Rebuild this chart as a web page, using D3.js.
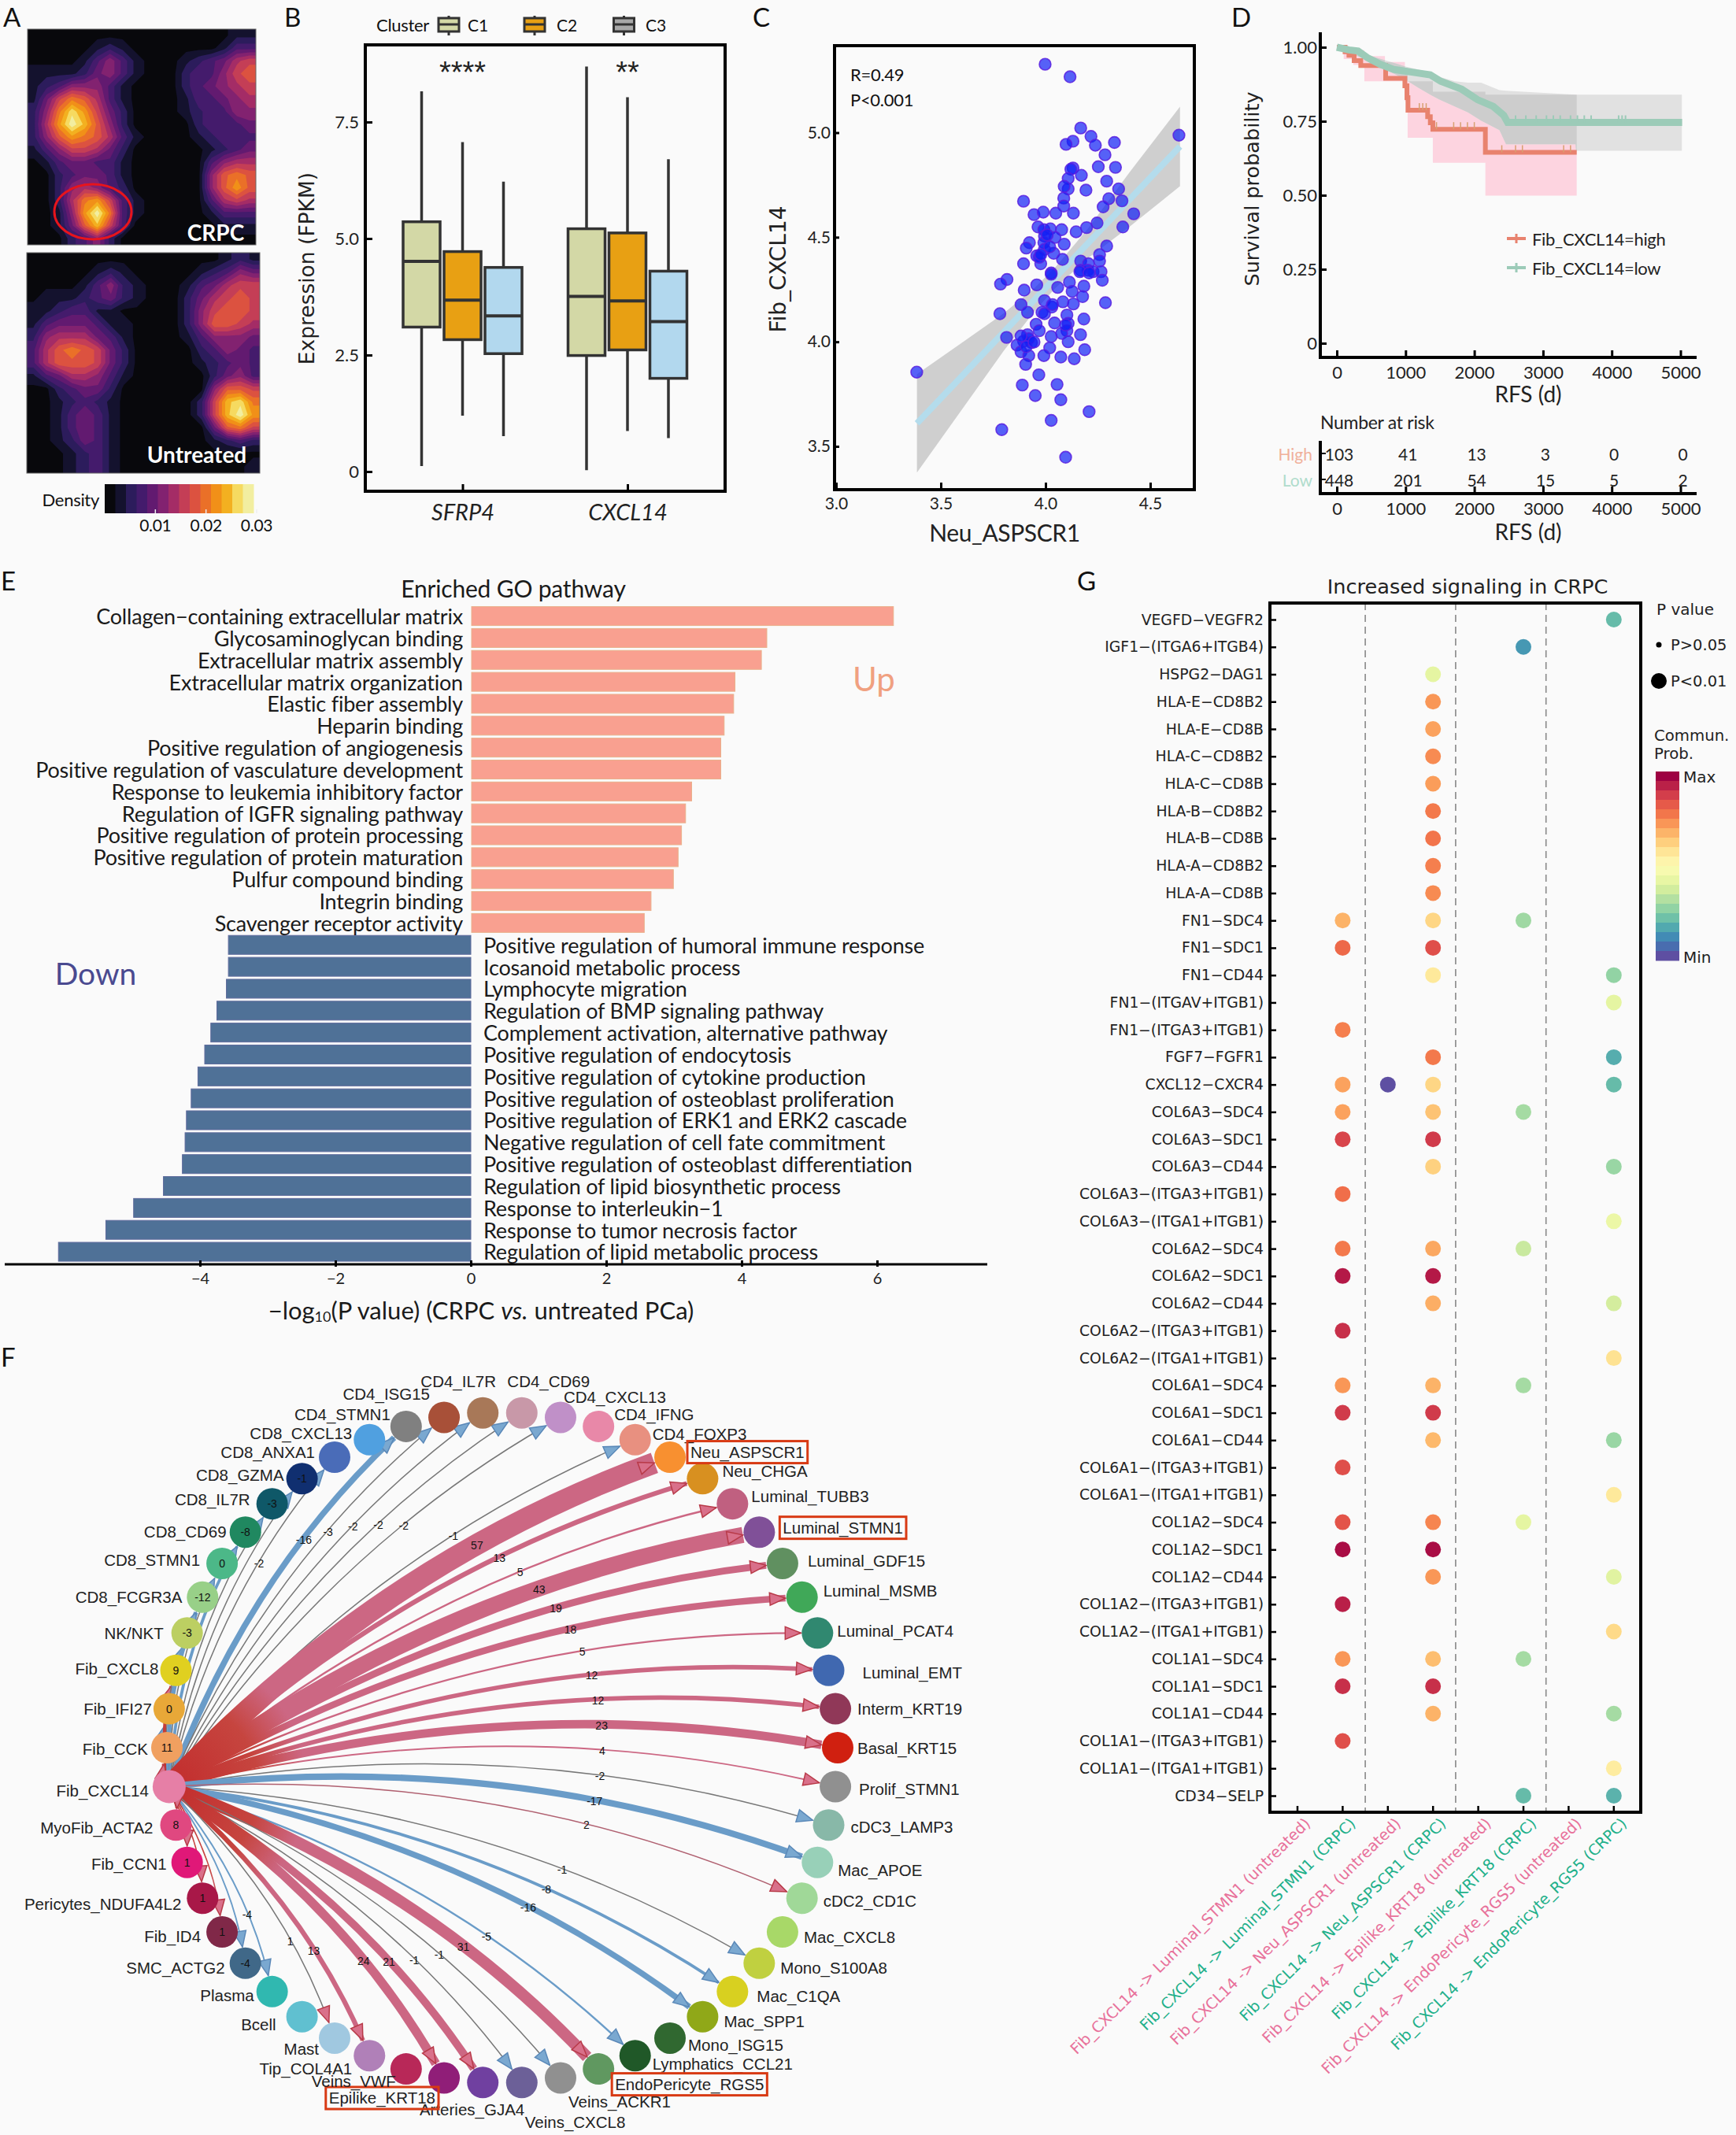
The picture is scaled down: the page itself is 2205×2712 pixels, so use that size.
<!DOCTYPE html>
<html><head><meta charset="utf-8">
<script src="https://d3js.org/d3.v7.min.js"></script>
<style>html,body{margin:0;padding:0;background:#fafafa}svg{display:block}</style>
</head><body><div id="c"></div>
<script>
// ---------- Panel A data (hand-read density levels, hex digit per cell) ----------
const densityColors=["#08080c","#14122e","#2c1c5c","#441b6c","#621a70","#822270","#a42c66","#c43e56","#dc5240","#ea7028","#f19018","#f3b020","#f6da60","#f2eea0"];
const densityTicks=[0.01,0.02,0.03];
const crpcGrid=["000000000000000011","000001210000000133","000013531000123467","111124531000233578","123555310000234567","147986310000133456","259ca7420000123355","26adb8520000023334","258a98631000012333","135776420000001234","013443310000003566","002344310000005898","0025653200000058a8","00269a731000003676","0015ad931000001333","00148b730000000111","000235200000000000"];
const untreatedGrid=["000000000000000121","000001210000012354","000013521000134677","011123421000246787","112331100000257887","134443110000258876","256664310000135554","368987420000023543","368887420000012343","134665310000002453","002344200000005887","001232100000027bc9","001343100000027bda","001343100000004897","001243100000001232","000123100000000000","000123100000000001"];
// ---------- Panel B data ----------
const boxGenes=["SFRP4","CXCL14"];
const boxClusters=["C1","C2","C3"];
const boxColors=["#d3d8a6","#e8a013","#b2d8ee"];
const boxMin=[[0.12,1.2,0.76],[0.03,0.87,0.72]];
const boxQ1=[[3.10,2.83,2.53],[2.49,2.61,2.0]];
const boxMed=[[4.51,3.68,3.34],[3.76,3.66,3.22]];
const boxQ3=[[5.36,4.72,4.38],[5.21,5.12,4.30]];
const boxMax=[[8.16,7.07,6.22],[8.69,8.03,6.70]];
const boxStars=["****","**"];
// ---------- Panel C data ----------
const scatterX=[3.998,4.117,4.168,4.217,4.131,4.098,4.238,4.329,4.284,4.252,4.334,4.131,4.121,4.171,4.108,4.292,4.349,4.193,4.108,4.089,3.895,4.087,4.302,4.365,4.087,4.275,3.945,3.989,4.049,4.133,4.421,3.964,4.246,4.196,4.077,3.992,4.023,4.146,4.369,3.995,4.045,3.923,3.992,3.908,4.089,4.292,3.995,4.039,3.958,4.081,4.258,4.258,3.895,3.977,4.027,4.168,4.205,4.168,4.202,4.227,4.265,4.637,3.970,4.008,4.020,3.977,3.816,3.785,3.958,3.898,4.027,4.114,4.058,4.127,4.183,4.271,4.164,4.208,4.177,4.286,3.883,3.995,4.083,4.133,4.030,3.782,3.983,4.102,3.914,4.183,4.043,3.955,4.108,3.970,4.102,3.914,4.167,4.027,4.077,3.814,4.108,3.933,3.895,3.864,4.020,3.883,4.187,3.920,3.992,4.073,4.137,3.905,3.968,3.889,4.055,3.951,4.073,4.208,4.027,3.791,4.096,3.385,3.920,3.908,3.945,3.883,4.033,3.995,4.096];
const scatterY=[5.327,5.267,5.022,4.982,4.959,4.944,4.940,4.953,4.894,4.837,4.834,4.831,4.825,4.796,4.781,4.768,4.731,4.725,4.731,4.743,4.672,4.687,4.684,4.674,4.649,4.645,4.608,4.620,4.615,4.615,4.612,4.549,4.568,4.546,4.536,4.536,4.540,4.526,4.549,4.505,4.499,4.474,4.474,4.448,4.467,4.458,4.442,4.423,4.411,4.394,4.417,4.386,4.373,4.373,4.329,4.386,4.373,4.342,4.342,4.335,4.335,4.988,4.404,4.511,4.454,4.417,4.298,4.276,4.272,4.247,4.323,4.285,4.260,4.241,4.266,4.294,4.335,4.329,4.216,4.187,4.178,4.197,4.191,4.181,4.166,4.134,4.141,4.128,4.141,4.109,4.090,4.084,4.088,4.053,4.053,4.034,4.034,4.025,4.040,4.021,4.000,3.996,4.003,3.984,3.971,3.952,3.962,3.934,3.934,3.927,3.919,3.892,3.842,3.793,3.796,3.743,3.723,3.666,3.624,3.580,3.448,3.855,4.015,3.977,3.999,4.028,4.178,4.134,4.080];
const fitX=[3.386,3.6,3.8,3.95,4.05,4.2,4.4,4.642];
const fitY=[3.61,3.835,4.046,4.204,4.310,4.468,4.679,4.934];
const fitHalf=[0.235,0.16,0.09,0.055,0.05,0.07,0.13,0.19];
// ---------- Panel D data ----------
const highT=[0,120,176,252,348,710,990,1020,1035,1321,1360,1397,2161,3490];
const highS=[1,.985,.973,.955,.938,.895,.87,.83,.787,.765,.745,.723,.645,.645];
const highCIT=[0,100,240,400,700,990,1030,1397,2161,3490];
const highCIU=[1,1,.99,.97,.95,.93,.885,.85,.84,.84];
const highCIL=[1,.96,.94,.885,.885,.818,.694,.61,.499,.499];
const lowT=[0,175,309,443,634,825,1092,1359,1512,1817,2046,2275,2428,2485,5024];
const lowS=[1,.991,.987,.965,.942,.925,.916,.907,.885,.858,.823,.80,.77,.746,.746];
const lowCIT=[0,500,1000,1182,1359,1488,1717,1908,2099,2366,2462,3473,3480,5020];
const lowCIU=[1,.97,.935,.925,.915,.90,.885,.88,.88,.855,.853,.84,.84,.84];
const lowCIL=[1,.95,.89,.864,.84,.824,.80,.78,.752,.72,.672,.672,.65,.65];
const lowCensor=[2600,2750,2900,3050,3150,3250,3400,3500,3600,3700,4100,4150,4200];
const highCensor=[1200,1250,1300,1450,1700,1800,1900,2000,2400,2600,2700,3300,3400];
const riskTimes=[0,1000,2000,3000,4000,5000];
const riskHigh=[103,41,13,3,0,0];
const riskLow=[448,201,54,15,5,2];
const survTicks=[0,.25,.5,.75,1];
// ---------- Panel E data ----------
const upTerms=["Collagen−containing extracellular matrix","Glycosaminoglycan binding","Extracellular matrix assembly","Extracellular matrix organization","Elastic fiber assembly","Heparin binding","Positive regulation of angiogenesis","Positive regulation of vasculature development","Response to leukemia inhibitory factor","Regulation of IGFR signaling pathway","Positive regulation of protein processing","Positive regulation of protein maturation","Pulfur compound binding","Integrin binding","Scavenger receptor activity"];
const upValues=[6.23,4.36,4.28,3.89,3.87,3.73,3.68,3.68,3.25,3.16,3.10,3.05,2.98,2.65,2.55];
const downTerms=["Positive regulation of humoral immune response","Icosanoid metabolic process","Lymphocyte migration","Regulation of BMP signaling pathway","Complement activation, alternative pathway","Positive regulation of endocytosis","Positive regulation of cytokine production","Positive regulation of osteoblast proliferation","Positive regulation of ERK1 and ERK2 cascade","Negative regulation of cell fate commitment","Positive regulation of osteoblast differentiation","Regulation of lipid biosynthetic process","Response to interleukin−1","Response to tumor necrosis factor","Regulation of lipid metabolic process"];
const downValues=[-3.58,-3.58,-3.61,-3.75,-3.84,-3.93,-4.03,-4.13,-4.20,-4.22,-4.26,-4.54,-4.98,-5.39,-6.09];
// ---------- Panel F data ----------
const cellNames=["Fib_CXCL14","Fib_CCK","Fib_IFI27","Fib_CXCL8","NK/NKT","CD8_FCGR3A","CD8_STMN1","CD8_CD69","CD8_IL7R","CD8_GZMA","CD8_ANXA1","CD8_CXCL13","CD4_STMN1","CD4_ISG15","CD4_IL7R","CD4_CD69","CD4_CXCL13","CD4_IFNG","CD4_FOXP3","Neu_ASPSCR1","Neu_CHGA","Luminal_TUBB3","Luminal_STMN1","Luminal_GDF15","Luminal_MSMB","Luminal_PCAT4","Luminal_EMT","Interm_KRT19","Basal_KRT15","Prolif_STMN1","cDC3_LAMP3","Mac_APOE","cDC2_CD1C","Mac_CXCL8","Mono_S100A8","Mac_C1QA","Mac_SPP1","Mono_ISG15","Lymphatics_CCL21","EndoPericyte_RGS5","Veins_ACKR1","Veins_CXCL8","Arteries_GJA4","Epilike_KRT18","Veins_VWF","Tip_COL4A1","Mast","Bcell","Plasma","SMC_ACTG2","Fib_ID4","Pericytes_NDUFA4L2","Fib_CCN1","MyoFib_ACTA2"];
const cellColors=["#e67fa6","#f0a060","#e8a838","#e0d020","#bccf62","#98d088","#4cb888","#208860","#0f5868","#102f70","#4a6cb8","#50a0e0","#808080","#a85038","#a87858","#c898a8","#c090c8","#e888a8","#e89080","#f89030","#d89020","#c06080","#805098","#609060","#40a858","#308870","#4068b0","#903858","#d02010","#909090","#88b8a8","#98d0b8","#a0d898","#a8d868","#c0d040","#d8d020","#90a818","#306830","#205828","#609860","#909090","#6c6098","#7040a0","#901e78","#b82858","#b080b8","#a0c8e0","#60c0d0","#30b8b0","#406888","#802848","#a81848","#e01878","#e04880"];
const edgeTargets=["Fib_CCK","Fib_IFI27","Fib_CXCL8","NK/NKT","CD8_FCGR3A","CD8_STMN1","CD8_CD69","CD8_IL7R","CD8_GZMA","CD8_ANXA1","CD4_STMN1","CD4_ISG15","CD4_IL7R","CD4_CD69","CD4_CXCL13","CD4_FOXP3","Neu_ASPSCR1","Neu_CHGA","Luminal_TUBB3","Luminal_STMN1","Luminal_GDF15","Luminal_MSMB","Luminal_PCAT4","Luminal_EMT","Interm_KRT19","Basal_KRT15","Prolif_STMN1","cDC3_LAMP3","Mac_APOE","cDC2_CD1C","Mono_S100A8","Mac_C1QA","Mac_SPP1","Lymphatics_CCL21","EndoPericyte_RGS5","Veins_ACKR1","Veins_CXCL8","Arteries_GJA4","Epilike_KRT18","Tip_COL4A1","Mast","Plasma","SMC_ACTG2","Fib_ID4","Pericytes_NDUFA4L2","Fib_CCN1","MyoFib_ACTA2"];
const edgeValues=[11,0,9,-3,-12,0,-8,-3,-1,-2,-16,-3,-2,-2,-2,-1,57,13,5,43,19,18,5,12,12,23,4,-2,-17,2,-1,-8,-16,-5,31,-1,-1,21,24,13,1,-4,-4,1,1,1,8];
const labelOnNode=["Fib_CCK","Fib_IFI27","Fib_CXCL8","NK/NKT","CD8_FCGR3A","CD8_STMN1","CD8_CD69","CD8_IL7R","CD8_GZMA","SMC_ACTG2","Fib_ID4","Pericytes_NDUFA4L2","Fib_CCN1","MyoFib_ACTA2"];
const boxedCells=["Neu_ASPSCR1","Luminal_STMN1","EndoPericyte_RGS5","Epilike_KRT18"];
// ---------- Panel G data ----------
const lrPairs=["VEGFD−VEGFR2","IGF1−(ITGA6+ITGB4)","HSPG2−DAG1","HLA-E−CD8B2","HLA-E−CD8B","HLA-C−CD8B2","HLA-C−CD8B","HLA-B−CD8B2","HLA-B−CD8B","HLA-A−CD8B2","HLA-A−CD8B","FN1−SDC4","FN1−SDC1","FN1−CD44","FN1−(ITGAV+ITGB1)","FN1−(ITGA3+ITGB1)","FGF7−FGFR1","CXCL12−CXCR4","COL6A3−SDC4","COL6A3−SDC1","COL6A3−CD44","COL6A3−(ITGA3+ITGB1)","COL6A3−(ITGA1+ITGB1)","COL6A2−SDC4","COL6A2−SDC1","COL6A2−CD44","COL6A2−(ITGA3+ITGB1)","COL6A2−(ITGA1+ITGB1)","COL6A1−SDC4","COL6A1−SDC1","COL6A1−CD44","COL6A1−(ITGA3+ITGB1)","COL6A1−(ITGA1+ITGB1)","COL1A2−SDC4","COL1A2−SDC1","COL1A2−CD44","COL1A2−(ITGA3+ITGB1)","COL1A2−(ITGA1+ITGB1)","COL1A1−SDC4","COL1A1−SDC1","COL1A1−CD44","COL1A1−(ITGA3+ITGB1)","COL1A1−(ITGA1+ITGB1)","CD34−SELP"];
const lrColumns=["Fib_CXCL14 -> Luminal_STMN1 (untreated)","Fib_CXCL14 -> Luminal_STMN1 (CRPC)","Fib_CXCL14 -> Neu_ASPSCR1 (untreated)","Fib_CXCL14 -> Neu_ASPSCR1 (CRPC)","Fib_CXCL14 -> Epilike_KRT18 (untreated)","Fib_CXCL14 -> Epilike_KRT18 (CRPC)","Fib_CXCL14 -> EndoPericyte_RGS5 (untreated)","Fib_CXCL14 -> EndoPericyte_RGS5 (CRPC)"];
// one list of [column index, relative communication probability] per ligand-receptor row
const lrProb=[[[7,.2]],[[5,.13]],[[3,.42]],[[3,.75]],[[3,.73]],[[3,.77]],[[3,.74]],[[3,.8]],[[3,.81]],[[3,.79]],[[3,.77]],[[1,.7],[3,.63],[5,.29]],[[1,.83],[3,.88]],[[3,.58],[7,.27]],[[7,.42]],[[1,.79]],[[3,.8],[7,.17]],[[1,.73],[2,0],[3,.63],[7,.2]],[[1,.73],[3,.67],[5,.3]],[[1,.9],[3,.92]],[[3,.64],[7,.28]],[[1,.82]],[[7,.44]],[[1,.8],[3,.72],[5,.36]],[[1,.98],[3,.98]],[[3,.71],[7,.38]],[[1,.94]],[[7,.6]],[[1,.75],[3,.7],[5,.3]],[[1,.92],[3,.92]],[[3,.69],[7,.28]],[[1,.88]],[[7,.58]],[[1,.87],[3,.78],[5,.42]],[[1,1],[3,1]],[[3,.75],[7,.41]],[[1,.97]],[[7,.62]],[[1,.75],[3,.68],[5,.3]],[[1,.94],[3,.94]],[[3,.7],[7,.3]],[[1,.88]],[[7,.57]],[[5,.2],[7,.18]]];

// ---------- layout constants ----------
const NARROW="Lato, 'Open Sans', sans-serif", SANS="'DejaVu Sans', sans-serif", ARIAL="'Liberation Sans', Arial, sans-serif";
const BG="#fafafa";
const svg=d3.select("#c").append("svg").attr("width",2205).attr("height",2712);
svg.append("rect").attr("width",2205).attr("height",2712).attr("fill",BG);
const defs=svg.append("defs");
function txt(g,x,y,s,o={}){
  const t=g.append("text").attr("x",x).attr("y",y).text(s)
   .attr("font-family",o.f||NARROW).attr("font-size",o.s||22).attr("fill",o.c||"#111")
   .attr("text-anchor",o.a||"start").attr("dominant-baseline","central");
  if(o.w)t.attr("font-weight",o.w); if(o.i)t.attr("font-style","italic");
  if(o.ls)t.attr("letter-spacing",o.ls);
  if(o.r!=null)t.attr("transform",`rotate(${o.r} ${x} ${y})`);
  return t;
}
function styleAxis(g,o={}){
  g.select(".domain").remove();
  g.selectAll("line").attr("stroke","#000").attr("stroke-width",o.tw||3);
  g.selectAll("text").attr("font-family",o.f||NARROW).attr("font-size",o.s||22).attr("fill","#222");
}
[["A",4,21],["B",361,21],["C",956,21],["D",1564,21],["E",1,737],["F",1,1723],["G",1368,737]].forEach(d=>txt(svg,d[1],d[2],d[0],{s:33}));

// ---------- Panel A ----------
(function(){
  const lift=.3;
  function heat(grid,box,id,label,lx,ly){
    const n=grid[0].length,m=grid.length;
    // pad by repeating the edge so that contours run to the panel border
    const vals=[];
    for(let j=-1;j<=m;j++)for(let i=-1;i<=n;i++){
      const r=grid[Math.max(0,Math.min(m-1,j))];
      vals.push(parseInt(r[Math.max(0,Math.min(n-1,i))],16));
    }
    const cs=d3.contours().size([n+2,m+2]).thresholds(d3.range(lift,13,1))(vals);
    const sx=d3.scaleLinear().domain([1,n+1]).range([box[0],box[1]]);
    const sy=d3.scaleLinear().domain([1,m+1]).range([box[2],box[3]]);
    const path=d3.geoPath(d3.geoTransform({point(x,y){this.stream.point(sx(x),sy(y));}}));
    defs.append("clipPath").attr("id",id).append("rect").attr("x",box[0]).attr("y",box[2]).attr("width",box[1]-box[0]).attr("height",box[3]-box[2]);
    const g=svg.append("g").attr("clip-path",`url(#${id})`);
    g.append("rect").attr("x",box[0]).attr("y",box[2]).attr("width",box[1]-box[0]).attr("height",box[3]-box[2]).attr("fill",densityColors[0]);
    g.selectAll("path").data(cs).join("path").attr("d",path).attr("fill",d=>densityColors[Math.round(d.value-lift)+1]);
    svg.append("rect").attr("x",box[0]).attr("y",box[2]).attr("width",box[1]-box[0]).attr("height",box[3]-box[2]).attr("fill","none").attr("stroke","#666").attr("stroke-width",1);
    txt(svg,lx,ly,label,{s:28,c:"#fff",w:700,a:"middle"});
  }
  heat(crpcGrid,[35,325,37,311],"cA1","CRPC",274,295);
  heat(untreatedGrid,[34,330,321,601],"cA2","Untreated",250,577);
  svg.append("ellipse").attr("cx",118).attr("cy",269).attr("rx",49).attr("ry",35).attr("fill","none").attr("stroke","#e8141c").attr("stroke-width",3);
  const x=d3.scaleLinear().domain([0,0.03]).range([133,326]);
  const w=(322-133)/densityColors.length;
  svg.selectAll("rect.cb").data(densityColors).join("rect").attr("class","cb")
    .attr("x",(d,i)=>133+i*w).attr("y",615).attr("width",w+.5).attr("height",37).attr("fill",d=>d);
  densityTicks.forEach(t=>{
    txt(svg,x(t),666,t.toFixed(2),{s:21,a:"middle",ls:"-.3px"});
    svg.append("line").attr("x1",x(t)).attr("x2",x(t)).attr("y1",647).attr("y2",652).attr("stroke","#eee").attr("stroke-width",1.5);
  });
  txt(svg,126,634,"Density",{s:22,a:"end",ls:"-.3px"});
})();

// ---------- Panel B ----------
(function(){
  const fr={l:464,r:921,t:57,b:624};
  const x0=d3.scaleBand().domain(boxGenes).range([483,902]);
  const x1=d3.scalePoint().domain(boxClusters).range([52.5,156.5]);
  const y=d3.scaleLinear().domain([0,7.5]).range([599,155]);
  const g=svg.append("g");
  boxGenes.forEach((gene,gi)=>{
    boxClusters.forEach((c,ci)=>{
      const cx=x0(gene)+x1(c),W=47;
      g.append("line").attr("x1",cx).attr("x2",cx).attr("y1",y(boxMin[gi][ci])).attr("y2",y(boxMax[gi][ci])).attr("stroke","#333").attr("stroke-width",3.5);
      g.append("rect").attr("x",cx-W/2).attr("width",W).attr("y",y(boxQ3[gi][ci])).attr("height",y(boxQ1[gi][ci])-y(boxQ3[gi][ci])).attr("fill",boxColors[ci]).attr("stroke","#333").attr("stroke-width",3.5);
      g.append("line").attr("x1",cx-W/2).attr("x2",cx+W/2).attr("y1",y(boxMed[gi][ci])).attr("y2",y(boxMed[gi][ci])).attr("stroke","#333").attr("stroke-width",4);
    });
    txt(svg,x0(gene)+x1.range()[0]+52,92,boxStars[gi],{s:38,a:"middle",f:ARIAL,c:"#222"});
  });
  svg.append("rect").attr("x",fr.l).attr("y",fr.t).attr("width",fr.r-fr.l).attr("height",fr.b-fr.t).attr("fill","none").attr("stroke","#000").attr("stroke-width",4);
  const ay=svg.append("g").attr("transform",`translate(${fr.l},0)`).call(d3.axisLeft(y).tickValues([0,2.5,5,7.5]).tickFormat(d=>d==0?"0":d.toFixed(1)).tickSize(-9).tickPadding(8));
  styleAxis(ay,{s:22});
  const ax=svg.append("g").attr("transform",`translate(0,${fr.b})`).call(d3.axisBottom(d3.scalePoint().domain(boxGenes).range([x0(boxGenes[0])+104.5,x0(boxGenes[1])+104.5])).tickSize(-9).tickPadding(0));
  styleAxis(ax,{s:29});
  ax.selectAll("text").attr("font-style","italic").attr("dy",0).attr("y",25).attr("dominant-baseline","central");
  txt(svg,389,341,"Expression (FPKM)",{f:SANS,s:26.5,a:"middle",r:-90,c:"#222"});
  txt(svg,478,31,"Cluster",{s:22,a:"start",ls:"-.3px"});
  [[570,607],[679,720],[792.5,833]].forEach((p,i)=>{
    svg.append("line").attr("x1",p[0]).attr("x2",p[0]).attr("y1",20).attr("y2",45).attr("stroke","#333").attr("stroke-width",3);
    svg.append("rect").attr("x",p[0]-13).attr("y",23).attr("width",26).attr("height",17).attr("fill",["#d3d8a6","#e8a013","#a8a8a8"][i]).attr("stroke","#333").attr("stroke-width",3);
    svg.append("line").attr("x1",p[0]-13).attr("x2",p[0]+13).attr("y1",31).attr("y2",31).attr("stroke","#333").attr("stroke-width",3);
    txt(svg,p[1],31,boxClusters[i],{s:21,a:"middle"});
  });
})();

// ---------- Panel C ----------
(function(){
  const fr={l:1060,r:1517,t:58,b:622};
  const x=d3.scaleLinear().domain([3,4.5]).range([1062,1461]);
  const y=d3.scaleLinear().domain([3.5,5]).range([567,168.5]);
  const idx=d3.range(fitX.length);
  svg.append("path").attr("d",d3.area().x(i=>x(fitX[i])).y0(i=>y(fitY[i]-fitHalf[i])).y1(i=>y(fitY[i]+fitHalf[i]))(idx)).attr("fill","#cfcfcf");
  svg.append("path").attr("d",d3.line().x(i=>x(fitX[i])).y(i=>y(fitY[i]))(idx)).attr("fill","none").attr("stroke","#b4dcec").attr("stroke-width",8);
  svg.append("g").selectAll("circle").data(scatterX).join("circle").attr("cx",d=>x(d)).attr("cy",(d,i)=>y(scatterY[i])).attr("r",7.4)
    .attr("fill","#1020f5").attr("fill-opacity",.7).attr("stroke","#5a20e0").attr("stroke-width",1.6).attr("stroke-opacity",.85);
  svg.append("rect").attr("x",fr.l).attr("y",fr.t).attr("width",fr.r-fr.l).attr("height",fr.b-fr.t).attr("fill","none").attr("stroke","#000").attr("stroke-width",4);
  styleAxis(svg.append("g").attr("transform",`translate(${fr.l},0)`).call(d3.axisLeft(y).tickValues([3.5,4,4.5,5]).tickFormat(d3.format(".1f")).tickSize(-6).tickPadding(5)),{s:21});
  const ax=svg.append("g").attr("transform",`translate(0,${fr.b})`).call(d3.axisBottom(x).tickValues([3,3.5,4,4.5]).tickFormat(d3.format(".1f")).tickSize(-9).tickPadding(0));
  styleAxis(ax,{s:21}); ax.selectAll("text").attr("dy",0).attr("y",16).attr("dominant-baseline","central");
  txt(svg,1080,94,"R=0.49",{s:22,ls:"-.3px"});
  txt(svg,1080,126,"P<0.001",{s:22,ls:"-.3px"});
  txt(svg,1276,676,"Neu_ASPSCR1",{s:30,a:"middle",c:"#222",ls:"-.4px"});
  txt(svg,988,342,"Fib_CXCL14",{f:SANS,s:28,a:"middle",r:-90,c:"#222"});
})();

// ---------- Panel D ----------
(function(){
  const x=d3.scaleLinear().domain([0,5000]).range([1698,2134.5]);
  const y=d3.scaleLinear().domain([0,1]).range([436,60]);
  const hi=d3.range(highCIT.length), lo=d3.range(lowCIT.length);
  const hiArea=d3.area().curve(d3.curveStepAfter).x(i=>x(highCIT[i])).y0(i=>y(highCIL[i])).y1(i=>y(highCIU[i]))(hi);
  const loArea=d3.area().curve(d3.curveLinear).x(i=>x(lowCIT[i])).y0(i=>y(lowCIL[i])).y1(i=>y(lowCIU[i]))(lo);
  svg.append("path").attr("d",hiArea).attr("fill","#fdd4e0");
  svg.append("path").attr("d",loArea).attr("fill","#e1e1e1");
  defs.append("clipPath").attr("id","cDlow").append("path").attr("d",loArea);
  svg.append("path").attr("d",hiArea).attr("fill","#cdcdcd").attr("clip-path","url(#cDlow)");
  const lineHi=d3.line().curve(d3.curveStepAfter).x(i=>x(highT[i])).y(i=>y(highS[i]));
  const lineLo=d3.line().curve(d3.curveLinear).x(i=>x(lowT[i])).y(i=>y(lowS[i]));
  svg.append("path").attr("d",lineHi(d3.range(highT.length))).attr("fill","none").attr("stroke","#e8826e").attr("stroke-width",6);
  const hv=t=>highS[d3.bisectRight(highT,t)-1];
  svg.append("g").selectAll("line").data(highCensor).join("line").attr("x1",d=>x(d)).attr("x2",d=>x(d)).attr("y1",d=>y(hv(d))-9).attr("y2",d=>y(hv(d))).attr("stroke","#d8a070").attr("stroke-width",1.5);
  svg.append("path").attr("d",lineLo(d3.range(lowT.length))).attr("fill","none").attr("stroke","#9ccbb8").attr("stroke-width",9);
  svg.append("g").selectAll("line").data(lowCensor).join("line").attr("x1",d=>x(d)).attr("x2",d=>x(d)).attr("y1",y(.746)-9).attr("y2",y(.746)).attr("stroke","#9ccbb8").attr("stroke-width",2);
  const axisLine=(x1,x2,y1,y2)=>svg.append("line").attr("x1",x1).attr("x2",x2).attr("y1",y1).attr("y2",y2).attr("stroke","#000").attr("stroke-width",4);
  axisLine(1677,1677,41,455); axisLine(1675,2155,454,454);
  styleAxis(svg.append("g").attr("transform","translate(1677,0)").call(d3.axisLeft(y).tickValues(survTicks).tickFormat(d=>d==0?"0":d.toFixed(2)).tickSize(-8).tickPadding(4)),{s:22});
  const ax=svg.append("g").attr("transform","translate(0,454)").call(d3.axisBottom(x).tickValues(riskTimes).tickFormat(d3.format("d")).tickSize(-9).tickPadding(0));
  styleAxis(ax,{s:22}); ax.selectAll("text").attr("dy",0).attr("y",18).attr("dominant-baseline","central");
  txt(svg,1941,500,"RFS (d)",{s:28,a:"middle",c:"#222"});
  txt(svg,1590,240,"Survival probability",{f:SANS,s:25.5,a:"middle",r:-90,c:"#222"});
  [["Fib_CXCL14=high","#e8826e",303],["Fib_CXCL14=low","#9ccbb8",340]].forEach(d=>{
    svg.append("line").attr("x1",1914).attr("x2",1938).attr("y1",d[2]).attr("y2",d[2]).attr("stroke",d[1]).attr("stroke-width",4);
    svg.append("line").attr("x1",1926).attr("x2",1926).attr("y1",d[2]-6).attr("y2",d[2]+6).attr("stroke",d[1]).attr("stroke-width",3);
    txt(svg,1946,d[2],d[0],{s:22,c:"#222",ls:"-.3px"});
  });
  txt(svg,1677,536,"Number at risk",{s:23,c:"#222",ls:"-.3px"});
  riskTimes.forEach((t,i)=>{
    txt(svg,x(t)+3,576,riskHigh[i],{s:21,a:"middle",c:"#222"});
    txt(svg,x(t)+3,609,riskLow[i],{s:21,a:"middle",c:"#222"});
  });
  txt(svg,1667,576,"High",{s:21,a:"end",c:"#f0b09a"});
  txt(svg,1667,609,"Low",{s:21,a:"end",c:"#b0dccc"});
  axisLine(1677,1677,560,628); axisLine(1675,2155,627,627);
  const ax2=svg.append("g").attr("transform","translate(0,627)").call(d3.axisBottom(x).tickValues(riskTimes).tickFormat(d3.format("d")).tickSize(-9).tickPadding(0));
  styleAxis(ax2,{s:22}); ax2.selectAll("text").attr("dy",0).attr("y",18).attr("dominant-baseline","central");
  txt(svg,1941,675,"RFS (d)",{s:28,a:"middle",c:"#222"});
  [[576],[609]].forEach(d=>svg.append("line").attr("x1",1677).attr("x2",1684).attr("y1",d[0]).attr("y2",d[0]).attr("stroke","#000").attr("stroke-width",2));
})();

// ---------- Panel E ----------
(function(){
  const all=upTerms.concat(downTerms), vals=upValues.concat(downValues);
  const x=d3.scaleLinear().domain([-4,6]).range([254,1114]);
  const y=d3.scaleBand().domain(d3.range(all.length)).range([782.5-13.92,1590+13.92]);
  const g=svg.append("g");
  g.selectAll("rect").data(vals).join("rect")
    .attr("x",d=>Math.min(x(0),x(d))+ (d<0?0:1)).attr("width",d=>Math.abs(x(d)-x(0))).attr("y",(d,i)=>y(i)+2).attr("height",24)
    .attr("fill",d=>d>0?"#f9a090":"#4f7197").attr("stroke",d=>d>0?"#e9b08a":"#5e6a9c").attr("stroke-width",1);
  all.forEach((t,i)=>{
    if(vals[i]>0)txt(svg,588,y(i)+y.bandwidth()/2,t,{s:27,a:"end",c:"#1a1a1a",ls:"-.2px"});
    else txt(svg,614,y(i)+y.bandwidth()/2,t,{s:27,c:"#1a1a1a",ls:"-.2px"});
  });
  const a=svg.append("g").attr("transform","translate(0,1606)").call(d3.axisBottom(x).tickValues([-4,-2,0,2,4,6]).tickFormat(d=>String(d).replace("-","−")).tickSize(6).tickPadding(4));
  styleAxis(a,{s:20}); a.selectAll("text").attr("y",17).attr("dy",0).attr("dominant-baseline","central");
  a.selectAll("line").attr("y1",-5).attr("y2",3);
  svg.append("line").attr("x1",6).attr("x2",1254).attr("y1",1606).attr("y2",1606).attr("stroke","#000").attr("stroke-width",3);
  txt(svg,652,747,"Enriched GO pathway",{s:30,a:"middle",c:"#1a1a1a",ls:"-.2px"});
  txt(svg,1110,862,"Up",{s:42,a:"middle",c:"#f0a080"});
  txt(svg,121.5,1236,"Down",{s:39,a:"middle",c:"#4a4a90"});
  const lab=svg.append("text").attr("x",611).attr("y",1664).attr("text-anchor","middle").attr("dominant-baseline","central").attr("font-family",NARROW).attr("font-size",31).attr("fill","#1a1a1a");
  lab.append("tspan").text("−log");
  lab.append("tspan").text("10").attr("font-size",18).attr("dy",8);
  lab.append("tspan").text("(P value) (CRPC ").attr("dy",-8);
  lab.append("tspan").text("vs.").attr("font-style","italic");
  lab.append("tspan").text(" untreated PCa)");
})();

// ---------- Panel F ----------
(function(){
  const cx=638,cy=2220,R=426;
  const phi=d3.scaleLinear().domain([1,28]).range([0,Math.PI]);
  const pos={};
  cellNames.forEach((n,i)=>{const a=phi(i);pos[n]={x:cx-R*Math.cos(a),y:cy-R*Math.sin(a),c:cellColors[i],i};});
  const src=pos["Fib_CXCL14"];
  const wScale=d3.scaleLinear().domain([0,57]).range([0,27]);
  const rg=defs.append("radialGradient").attr("id","pinkEdge").attr("gradientUnits","userSpaceOnUse").attr("cx",src.x).attr("cy",src.y).attr("r",175);
  rg.append("stop").attr("offset",0).attr("stop-color","#c22c2c");
  rg.append("stop").attr("offset",.65).attr("stop-color","#c6453f");
  rg.append("stop").attr("offset",1).attr("stop-color","#cc6783");
  const mk=(id,fill,stroke)=>defs.append("marker").attr("id",id).attr("markerUnits","userSpaceOnUse").attr("viewBox","-2 -11 26 22").attr("refX",20).attr("refY",0).attr("markerWidth",26).attr("markerHeight",22).attr("orient","auto")
     .append("path").attr("d","M0,-8L20,0L0,8Z").attr("fill",fill).attr("stroke",stroke).attr("stroke-width",1.5);
  mk("arP","#d9708a","#b83a48"); mk("arB","#7aa8d0","#5a88b8");
  const g=svg.append("g");
  const eg=[];
  edgeTargets.forEach((t,k)=>{
    const v=edgeValues[k],T=pos[t];
    const dx=T.x-src.x,dy=T.y-src.y,L=Math.hypot(dx,dy);
    const C={x:(src.x+T.x)/2+dy/L*.118*L,y:(src.y+T.y)/2-dx/L*.118*L};
    const tl=Math.hypot(T.x-C.x,T.y-C.y);
    const E={x:T.x-(T.x-C.x)/tl*21,y:T.y-(T.y-C.y)/tl*21};
    const thin=Math.abs(v)<=3;
    const p=d3.path();p.moveTo(src.x,src.y);p.quadraticCurveTo(C.x,C.y,E.x,E.y);
    const col=v>0?"url(#pinkEdge)":"#6a9cc8";
    eg.push({v,T,C,name:t});
    g.append("path").attr("d",p.toString()).attr("fill","none")
     .attr("stroke",thin&&!(v>0&&L<260)?(v==2?"#b06070":"#777"):col).attr("stroke-width",thin?1.5:wScale(Math.abs(v)))
     .attr("marker-end",`url(#${v>0?"arP":"arB"})`);
  });
  const nodes=svg.append("g");
  nodes.selectAll("circle").data(cellNames).join("circle").attr("cx",d=>pos[d].x).attr("cy",d=>pos[d].y).attr("r",d=>d=="Fib_CXCL14"?21:20).attr("fill",d=>pos[d].c);
  eg.forEach(e=>{
    let lx,ly;
    if(labelOnNode.includes(e.name)){lx=e.T.x;ly=e.T.y;}
    else{const t=.65,u=1-t;lx=u*u*src.x+2*u*t*e.C.x+t*t*e.T.x;ly=u*u*src.y+2*u*t*e.C.y+t*t*e.T.y;}
    txt(svg,lx,ly,e.v,{f:ARIAL,s:14,a:"middle",c:"#111"});
  });
  const labelLayout={"Fib_CXCL14":[-26,5,"end"],"Fib_CCK":[-24,1,"end"],"Fib_IFI27":[-22,0,"end"],"Fib_CXCL8":[-22,-2,"end"],"NK/NKT":[-30,0,"end"],"CD8_FCGR3A":[-26,0,"end"],"CD8_STMN1":[-28,-4,"end"],"CD8_CD69":[-24,-1,"end"],"CD8_IL7R":[-28,-6,"end"],"CD8_GZMA":[-23,-5,"end"],"CD8_ANXA1":[-25,-7,"end"],"CD8_CXCL13":[-22,-8,"end"],"CD4_STMN1":[-20,-15,"end"],"CD4_ISG15":[-18,-30,"end"],"CD4_IL7R":[-31,-40,"middle"],"CD4_CD69":[34,-40,"middle"],"CD4_CXCL13":[4,-26,"start"],"CD4_IFNG":[20,-15,"start"],"CD4_FOXP3":[22,-7,"start"],"Neu_ASPSCR1":[26,-7,"start"],"Neu_CHGA":[25,-10,"start"],"Luminal_TUBB3":[24,-10,"start"],"Luminal_STMN1":[30,-6,"start"],"Luminal_GDF15":[32,-3,"start"],"Luminal_MSMB":[27,-8,"start"],"Luminal_PCAT4":[25,-3,"start"],"Luminal_EMT":[43,3,"start"],"Interm_KRT19":[28,0,"start"],"Basal_KRT15":[25,0,"start"],"Prolif_STMN1":[30,3,"start"],"cDC3_LAMP3":[28,2,"start"],"Mac_APOE":[26,10,"start"],"cDC2_CD1C":[27,3,"start"],"Mac_CXCL8":[27,6,"start"],"Mono_S100A8":[27,6,"start"],"Mac_C1QA":[31,6,"start"],"Mac_SPP1":[27,6,"start"],"Mono_ISG15":[23,9,"start"],"Lymphatics_CCL21":[22,10,"start"],"EndoPericyte_RGS5":[21,19,"start"],"Veins_ACKR1":[10,30,"start"],"Veins_CXCL8":[4,50,"start"],"Arteries_GJA4":[53,34,"end"],"Epilike_KRT18":[-11,25,"end"],"Veins_VWF":[-13,15,"end"],"Tip_COL4A1":[-22,16,"end"],"Mast":[-20,14,"end"],"Bcell":[-33,10,"end"],"Plasma":[-23,5,"end"],"SMC_ACTG2":[-26,6,"end"],"Fib_ID4":[-27,5,"end"],"Pericytes_NDUFA4L2":[-27,7,"end"],"Fib_CCN1":[-26,2,"end"],"MyoFib_ACTA2":[-29,3,"end"]};
  cellNames.forEach(n=>{
    const l=labelLayout[n],t=txt(svg,pos[n].x+l[0],pos[n].y+l[1],n,{f:ARIAL,s:20.5,a:l[2],c:"#222"});
    if(boxedCells.includes(n)){
      const b=t.node().getBBox();
      svg.append("rect").attr("x",b.x-4).attr("y",b.y-2).attr("width",b.width+8).attr("height",b.height+4).attr("fill","none").attr("stroke","#d83a14").attr("stroke-width",3);
    }
  });
})();

// ---------- Panel G ----------
(function(){
  const fr={l:1613,r:2084,t:766,b:2302};
  const x=d3.scaleBand().domain(lrColumns).range([1619.3,2078.5]);
  const y=d3.scalePoint().domain(lrPairs).range([787,2281]);
  const col=v=>d3.interpolateSpectral(1-v*0.98);
  [1,3,5].forEach(i=>{
    const xv=x(lrColumns[i])+x.step();
    svg.append("line").attr("x1",xv).attr("x2",xv).attr("y1",fr.t).attr("y2",fr.b).attr("stroke","#888").attr("stroke-width",1.6).attr("stroke-dasharray","9 6");
  });
  const g=svg.append("g");
  lrPairs.forEach((p,i)=>{
    lrProb[i].forEach(d=>{
      g.append("circle").attr("cx",x(lrColumns[d[0]])+x.bandwidth()/2).attr("cy",y(p)).attr("r",10).attr("fill",col(d[1]));
    });
  });
  svg.append("rect").attr("x",fr.l).attr("y",fr.t).attr("width",fr.r-fr.l).attr("height",fr.b-fr.t).attr("fill","none").attr("stroke","#000").attr("stroke-width",4);
  styleAxis(svg.append("g").attr("transform",`translate(${fr.l},0)`).call(d3.axisLeft(y).tickSize(-8).tickPadding(8)),{f:SANS,s:18.8,tw:2.5});
  const ax=svg.append("g").attr("transform",`translate(0,${fr.b})`).call(d3.axisBottom(x).tickSize(-8).tickFormat(""));
  styleAxis(ax,{tw:2.5});
  lrColumns.forEach((c,i)=>{
    const cxx=x(c)+x.bandwidth()/2+13;
    svg.append("text").attr("transform",`translate(${cxx},2313) rotate(-44.5)`).attr("text-anchor","end").attr("dominant-baseline","central")
      .attr("font-family",SANS).attr("font-size",19.4).attr("fill",i%2?"#1fb08a":"#e8719a").text(c);
  });
  txt(svg,1864,745,"Increased signaling in CRPC",{f:SANS,s:25.6,a:"middle",c:"#222"});
  txt(svg,2104,774,"P value",{f:SANS,s:20,c:"#222"});
  svg.append("circle").attr("cx",2107).attr("cy",819).attr("r",3.5).attr("fill","#000");
  svg.append("circle").attr("cx",2107).attr("cy",865).attr("r",10).attr("fill","#000");
  txt(svg,2122,819,"P>0.05",{f:SANS,s:19.5,c:"#222"});
  txt(svg,2122,865,"P<0.01",{f:SANS,s:19.5,c:"#222"});
  txt(svg,2101,934,"Commun.",{f:SANS,s:19.7,c:"#222"});
  txt(svg,2101,957,"Prob.",{f:SANS,s:19.7,c:"#222"});
  const bands=d3.range(0,1.0001,1/19);
  const by=d3.scaleBand().domain(bands).range([980,1220]);
  svg.selectAll("rect.gb").data(bands).join("rect").attr("class","gb").attr("x",2103).attr("width",30).attr("y",d=>by(d)).attr("height",by.bandwidth()+.5).attr("fill",d=>d3.interpolateSpectral(d));
  txt(svg,2138,987,"Max",{f:SANS,s:20,c:"#222"});
  txt(svg,2138,1216,"Min",{f:SANS,s:20,c:"#222"});
})();
</script></body></html>
